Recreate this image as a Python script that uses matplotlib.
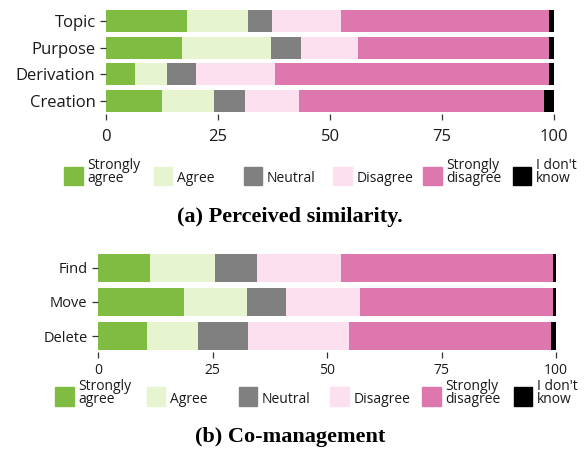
import matplotlib
matplotlib.use('Agg')
import matplotlib.pyplot as plt
from matplotlib.patches import Rectangle
import numpy as np

# Response categories and colours (PiYG-like scale)
responses = ['Strongly\nagree', 'Agree', 'Neutral', 'Disagree', 'Strongly\ndisagree', "I don't\nknow"]
colors = ['#7fbc41', '#e6f5d0', '#808080', '#fde0ef', '#de77ae', '#000000']

# (a) Perceived similarity, % of answers
sim_cats = ['Topic', 'Purpose', 'Derivation', 'Creation']
sim_strongly_agree = [18.1, 17.0, 6.5, 12.5]
sim_agree = [13.6, 19.9, 7.2, 11.5]
sim_neutral = [5.4, 6.7, 6.3, 7.1]
sim_disagree = [15.4, 12.7, 17.8, 12.0]
sim_strongly_disagree = [46.3, 42.5, 61.0, 54.7]
sim_dont_know = [1.2, 1.2, 1.2, 2.2]

# (b) Co-management, % of answers
co_cats = ['Find', 'Move', 'Delete']
co_strongly_agree = [11.3, 18.8, 10.7]
co_agree = [14.2, 13.7, 11.1]
co_neutral = [9.2, 8.5, 10.9]
co_disagree = [18.3, 16.1, 22.0]
co_strongly_disagree = [46.4, 42.3, 44.3]
co_dont_know = [0.6, 0.6, 1.0]

plt.rcParams['font.family'] = ['Open Sans', 'DejaVu Sans']

W, H = 587, 449
fig = plt.figure(figsize=(W / 100, H / 100), dpi=100)


def px_axes(left, top, right, bottom):
    # pixel box (from top-left) -> figure axes
    return fig.add_axes([left / W, 1 - bottom / H, (right - left) / W, (bottom - top) / H])


def stacked(ax, cats, series, bar_h, ylim, xtick_fs, ytick_fs, xpad):
    y = np.arange(len(cats))
    left = np.zeros(len(cats))
    for vals, c in zip(series, colors):
        ax.barh(y, vals, left=left, height=bar_h, color=c, linewidth=0)
        left += np.array(vals)
    ax.set_xlim(0, 100)
    ax.set_ylim(*ylim)
    ax.set_yticks(y)
    ax.set_yticklabels(cats)
    ax.set_xticks([0, 25, 50, 75, 100])
    for s in ax.spines.values():
        s.set_visible(False)
    ax.tick_params(axis='both', length=4, width=0.9, color='#333333',
                   labelcolor='#1a1a1a')
    ax.tick_params(axis='x', pad=xpad, labelsize=xtick_fs)
    ax.tick_params(axis='y', pad=3.5, labelsize=ytick_fs)


def legend_row(first_left, spacing, top, bottom, fs):
    lax = px_axes(first_left, top, first_left + 6 * spacing, bottom)
    lax.set_xlim(0, 6)
    lax.set_ylim(0, 1)
    lax.axis('off')
    for i, (lab, c) in enumerate(zip(responses, colors)):
        lax.add_patch(Rectangle((i, 0), 18.5 / spacing, 1, color=c, clip_on=False))
        lax.text(i + 23 / spacing, -0.08, lab, ha='left', va='bottom', fontsize=fs,
                 linespacing=0.85, color='#1a1a1a', clip_on=False)


ax1 = px_axes(106, 9, 554, 114)
stacked(ax1, sim_cats,
        [sim_strongly_agree, sim_agree, sim_neutral, sim_disagree,
         sim_strongly_disagree, sim_dont_know],
        0.825, (3.49, -0.45), 12, 12, 6.5)
legend_row(64, 89.8, 167, 185, 10)
fig.text(290 / W, 1 - 217 / H, '(a) Perceived similarity.', ha='center', va='center',
         fontsize=16, fontweight='bold', family='Liberation Serif')

ax2 = px_axes(98, 253, 556, 352)
stacked(ax2, co_cats,
        [co_strongly_agree, co_agree, co_neutral, co_disagree,
         co_strongly_disagree, co_dont_know],
        0.8, (2.47, -0.44), 10, 10.5, 4)
legend_row(55, 91.8, 387, 405.5, 10)
fig.text(290 / W, 1 - 437 / H, '(b) Co-management', ha='center', va='center',
         fontsize=16, fontweight='bold', family='Liberation Serif')

fig.savefig('out.png', dpi=100)
